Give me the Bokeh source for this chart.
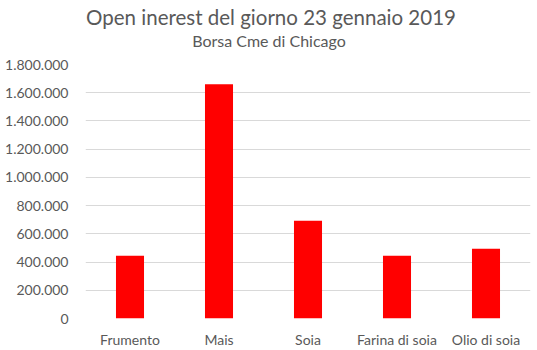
from bokeh.plotting import figure
from bokeh.models import FixedTicker, Label, ColumnDataSource, Range1d
from bokeh.layouts import column
from bokeh.embed import file_html
from bokeh.resources import INLINE

categories = ["Frumento", "Mais", "Soia", "Farina di soia", "Olio di soia"]
values = [445000, 1660000, 692000, 445000, 495000]
y_ticks = [0, 200000, 400000, 600000, 800000, 1000000, 1200000, 1400000, 1600000, 1800000]
y_tick_labels = ["0", "200.000", "400.000", "600.000", "800.000", "1.000.000",
                 "1.200.000", "1.400.000", "1.600.000", "1.800.000"]
title_text = "Open inerest del giorno 23 gennaio 2019"
subtitle_text = "Borsa Cme di Chicago"

FONT = "Lato"
GREY = "#595959"

# --- header figure holding title and subtitle (same side borders as the chart) ---
head = figure(width=537, height=54, output_backend="svg", toolbar_location=None, tools="",
              x_range=Range1d(0, 1), y_range=Range1d(0, 1),
              min_border_left=85, min_border_right=7,
              min_border_top=0, min_border_bottom=0)
head.axis.visible = False
head.grid.visible = False
head.outline_line_color = None
# labels are clipped to the header frame (x >= 85 px), so keep the title inside it
head.add_layout(Label(x=270.5 - 85, y=54 - 16, x_units="screen", y_units="screen",
                      text=title_text, text_align="center", text_baseline="middle",
                      text_font=FONT, text_font_size="20.5px", text_color=GREY))
head.add_layout(Label(x=268.5 - 85, y=54 - 40, x_units="screen", y_units="screen",
                      text=subtitle_text, text_align="center", text_baseline="middle",
                      text_font=FONT, text_font_size="16px", text_color=GREY))

# --- main bar chart ---
p = figure(x_range=categories, y_range=Range1d(0, 1800000), width=537, height=296,
           output_backend="svg", toolbar_location=None, tools="",
           min_border_left=85, min_border_right=7, min_border_top=10, min_border_bottom=32)

src = ColumnDataSource(dict(cat=categories, val=values))
p.vbar(x="cat", top="val", width=0.315, source=src, color="#ff0000", line_color=None)

p.yaxis.ticker = FixedTicker(ticks=y_ticks)
p.yaxis.major_label_overrides = {t: l for t, l in zip(y_ticks, y_tick_labels)}
for ax in (p.xaxis, p.yaxis):
    ax.axis_line_color = None
    ax.major_tick_line_color = None
    ax.minor_tick_line_color = None
    ax.major_label_text_font = FONT
    ax.major_label_text_font_size = "14px"
    ax.major_label_text_color = GREY
p.yaxis.major_label_standoff = 11
p.xaxis.major_label_standoff = 6

p.xgrid.grid_line_color = None
p.ygrid.ticker = FixedTicker(ticks=y_ticks)
p.ygrid.grid_line_color = "#d9d9d9"
p.ygrid.grid_line_width = 1
p.outline_line_color = None
p.x_range.range_padding = 0

layout = column(head, p, spacing=0)
open("out.html", "w").write(file_html(layout, INLINE))
